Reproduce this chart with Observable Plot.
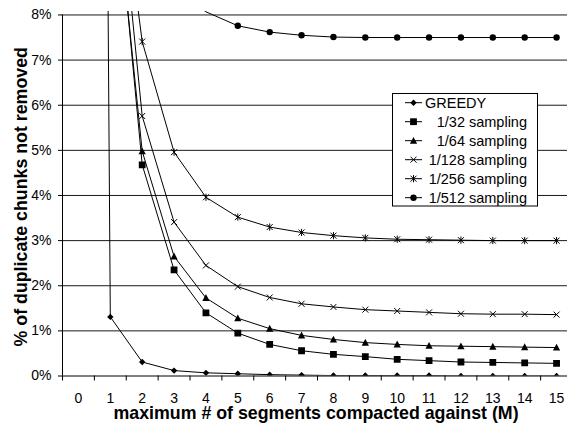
<!DOCTYPE html>
<html><head><meta charset="utf-8">
<script src="https://cdn.jsdelivr.net/npm/d3@7"></script>
<script src="https://cdn.jsdelivr.net/npm/@observablehq/plot@0.6"></script>
<style>
html,body{margin:0;padding:0;background:#fff;}
#chart{position:relative;width:567px;height:423px;overflow:hidden;}
svg{font-family:"Liberation Sans",Arial,sans-serif;}
</style></head><body><div id="chart"></div>
<script>
// ---- data ----
const M = [0,1,2,3,4,5,6,7,8,9,10,11,12,13,14,15];
const seriesNames = ["GREEDY","1/32 sampling","1/64 sampling","1/128 sampling","1/256 sampling","1/512 sampling"];
const greedy = [100, 1.31, 0.31, 0.12, 0.07, 0.05, 0.03, 0.02, 0.01, 0.01, 0.01, 0.01, 0.00, 0.00, 0.00, 0.00];
const s32  = [null, 12.2, 4.68, 2.35, 1.40, 0.95, 0.70, 0.56, 0.48, 0.43, 0.37, 0.34, 0.31, 0.30, 0.29, 0.28];
const s64  = [null, 11.9, 4.98, 2.65, 1.73, 1.28, 1.05, 0.90, 0.81, 0.74, 0.70, 0.67, 0.66, 0.65, 0.64, 0.63];
const s128 = [null, 12.9, 5.76, 3.41, 2.45, 1.98, 1.74, 1.60, 1.53, 1.47, 1.44, 1.41, 1.38, 1.37, 1.37, 1.36];
const s256 = [null, 12.9, 7.41, 4.96, 3.96, 3.52, 3.30, 3.18, 3.11, 3.06, 3.03, 3.02, 3.01, 3.00, 3.00, 3.00];
const s512 = [null, 13.5, 9.9, 8.6, 8.07, 7.76, 7.62, 7.55, 7.51, 7.50, 7.50, 7.50, 7.50, 7.50, 7.50, 7.50];
const yTicks = [0,1,2,3,4,5,6,7,8];
const xTickLabels = M;
const xTitle = "maximum # of segments compacted against (M)";
const yTitle = "% of duplicate chunks not removed";

// ---- symbols (Excel-like markers) ----
const sym = (fn) => ({draw(ctx, size){ const r = Math.sqrt(size / Math.PI); fn(ctx, r); }});
const diamond = sym((c,r)=>{c.moveTo(0,-r);c.lineTo(r,0);c.lineTo(0,r);c.lineTo(-r,0);c.closePath();});
const square = sym((c,r)=>{c.rect(-r,-r,2*r,2*r);});
const triangle = sym((c,r)=>{c.moveTo(0,-r);c.lineTo(r*0.95,r*0.8);c.lineTo(-r*0.95,r*0.8);c.closePath();});
const times = sym((c,r)=>{c.moveTo(-r,-r);c.lineTo(r,r);c.moveTo(r,-r);c.lineTo(-r,r);});
const star = sym((c,r)=>{c.moveTo(-r,-r);c.lineTo(r,r);c.moveTo(r,-r);c.lineTo(-r,r);c.moveTo(0,-r*1.2);c.lineTo(0,r*1.2);});
const circle = sym((c,r)=>{c.moveTo(r,0);c.arc(0,0,r,0,2*Math.PI);c.closePath();});

const styles = [
  {symbol: diamond, r: 3.2, filled: true},
  {symbol: square, r: 3.4, filled: true},
  {symbol: triangle, r: 3.8, filled: true},
  {symbol: times, r: 3.0, filled: false},
  {symbol: star, r: 3.0, filled: false},
  {symbol: circle, r: 3.2, filled: true}
];

const seriesValues = [greedy, s32, s64, s128, s256, s512];
const rows = seriesNames.flatMap((name, i) => M.map((m, j) => ({series: name, m, v: seriesValues[i][j]})))
  .filter(d => d.v != null);

const xBounds = M.map(d => d - 0.5).concat([M[M.length-1] + 0.5]);

const dotMarks = seriesNames.map((name, i) => {
  const s = styles[i];
  return Plot.dot(rows.filter(d => d.series === name && d.v <= 8), {
    x: "m", y: "v", symbol: s.symbol, r: s.r,
    fill: s.filled ? "#000" : "none",
    stroke: s.filled ? "none" : "#000",
    strokeWidth: 1, clip: true
  });
});

const plot = Plot.plot({
  width: 567, height: 423,
  marginLeft: 62, marginRight: 0, marginTop: 11, marginBottom: 47.5,
  x: {domain: [-0.5, 15.5], range: [62, 572]},
  y: {domain: [0, 8.07], range: [375.5, 11.3]},
  style: {fontFamily: "'Liberation Sans', Arial, sans-serif", fontSize: "14px", color: "#000", background: "transparent", overflow: "visible"},
  marks: [
    Plot.ruleY(yTicks.filter(d => d > 0), {stroke: "#1a1a1a", strokeWidth: 1}),
    Plot.line(rows, {x: "m", y: "v", z: "series", stroke: "#000", strokeWidth: 1, clip: true}),
    ...dotMarks,
    Plot.ruleY([0], {stroke: "#000", strokeWidth: 1}),
    Plot.ruleX([-0.5], {y1: 0, y2: 8, stroke: "#000", strokeWidth: 1}),
    Plot.axisY({ticks: yTicks, tickSize: 4, tickPadding: 7, tickFormat: d => d + "%", fontSize: 14, label: null}),
    Plot.axisX({ticks: xBounds, tickSize: 5, tickFormat: () => "", label: null}),
    Plot.axisX({ticks: xTickLabels, tickSize: 0, tickPadding: 17.5, tickFormat: d => String(d), fontSize: 14, label: null}),
    Plot.text([xTitle], {frameAnchor: "bottom", textAnchor: "middle", lineAnchor: "middle", dy: 37.5, dx: 1, fontWeight: "bold", fontSize: 17.8}),
    Plot.text([yTitle], {frameAnchor: "left", textAnchor: "middle", lineAnchor: "middle", rotate: -90, dx: -41, dy: 3, fontWeight: "bold", fontSize: 17.8})
  ]
});

document.getElementById("chart").appendChild(plot);

// ---- legend (drawn into the same svg) ----
const svg = d3.select(plot);
const lg = svg.append("g").attr("class", "legend");
lg.append("rect").attr("x", 392.5).attr("y", 93.5).attr("width", 145).attr("height", 112.5)
  .attr("fill", "#fff").attr("stroke", "#000").attr("stroke-width", 1);
seriesNames.forEach((name, i) => {
  const y = 102.7 + i * 19;
  const s = styles[i];
  lg.append("line").attr("x1", 405).attr("x2", 422).attr("y1", y).attr("y2", y).attr("stroke", "#000").attr("stroke-width", 1);
  const p = d3.path();
  s.symbol.draw(p, s.r * s.r * Math.PI);
  lg.append("path").attr("d", p.toString()).attr("transform", `translate(413.5,${y})`)
    .attr("fill", s.filled ? "#000" : "none").attr("stroke", s.filled ? "none" : "#000").attr("stroke-width", 1);
  const t = lg.append("text").attr("y", y).attr("dy", "0.35em").attr("font-size", 14.5).attr("fill", "#000").text(name);
  if (i === 0) t.attr("x", 425).attr("text-anchor", "start");
  else t.attr("x", 527).attr("text-anchor", "end");
});
</script>
</body></html>
